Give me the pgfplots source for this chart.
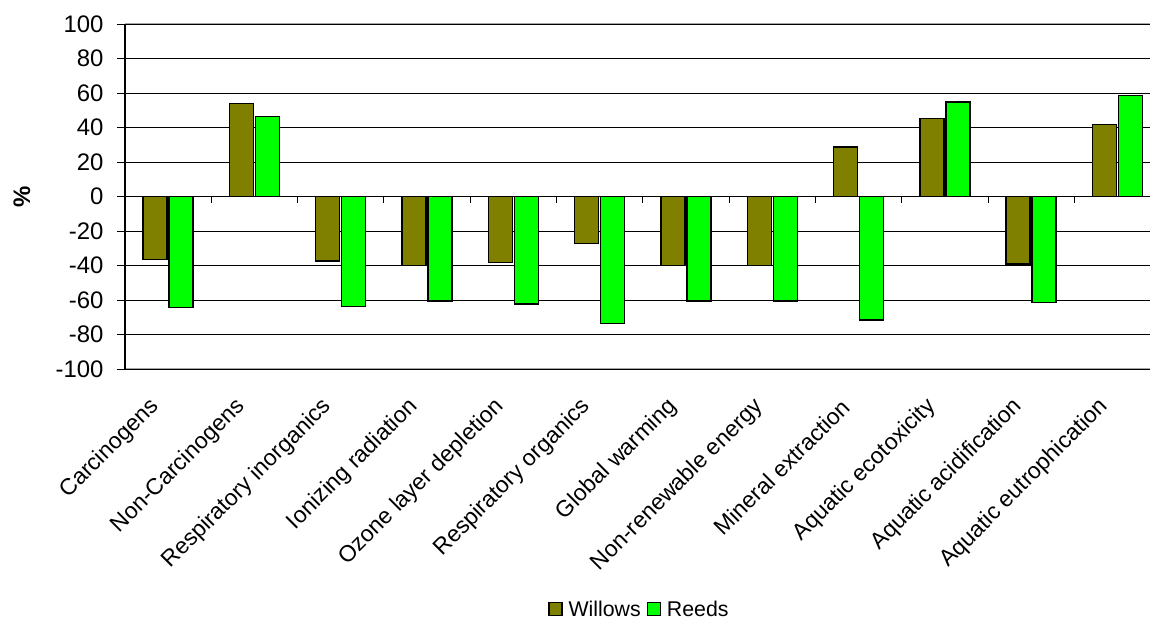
\documentclass[border=0pt]{standalone}
\usepackage{pgfplots}
\pgfplotsset{compat=1.18}
\usepackage{fontspec}
\setmainfont{Liberation Sans}
\definecolor{willow}{HTML}{808000}
\definecolor{reed}{HTML}{00FF00}
\begin{document}
\begin{tikzpicture}
\begin{axis}[
  at={(0,0)}, anchor=south west,
  scale only axis, width=1025bp, height=345bp,
  xmin=-0.5, xmax=11.377, ymin=-100, ymax=100,
  axis y line*=left, axis x line*=box,
  x axis line style={draw=gray!70, line width=1.2bp},
  y axis line style={draw=black, line width=1.2bp},
  ytick={-100,-80,...,100},
  xtick={0,...,11},
  xticklabels={Carcinogens,Non-Carcinogens,Respiratory inorganics,Ionizing radiation,Ozone layer depletion,Respiratory organics,Global warming,Non-renewable energy,Mineral extraction,Aquatic ecotoxicity,Aquatic acidification,Aquatic eutrophication},
  xtick style={draw=none},
  ytick style={draw=black, line width=1bp},
  tick align=outside, major tick length=8bp,
  ymajorgrids, major grid style={draw=black, line width=0.9bp},
  extra y ticks={-100,100}, extra y tick labels={},
  extra y tick style={grid style={draw=gray!70, line width=1.2bp}},
  /pgf/number format/assume math mode=true,
  yticklabel style={font=\fontsize{24}{24}\selectfont, xshift=-10bp},
  xticklabel style={font=\fontsize{23}{23}\selectfont, rotate=45, anchor=east, inner sep=0pt, xshift=-27.5bp, yshift=-9.5bp},
  ylabel={\textbf{\%}}, ylabel style={font=\fontsize{24}{24}\selectfont, at={(axis description cs:-0.1005,0.5)}, anchor=center},
  ybar, bar width=24bp,
  legend columns=2,
  legend style={draw=none, at={(0.5024,-0.696)}, anchor=center, font=\fontsize{21.4}{21.4}\selectfont, column sep=3bp, nodes={inner sep=3bp}},
  legend image code/.code={\draw[#1, draw=black, line width=1.2bp] (0bp,-6.5bp) rectangle (13bp,6.5bp);},
]
\addplot[fill=willow, draw=black, line width=1.4bp] coordinates {
(0,-36.4) (1,53.9) (2,-37.4) (3,-39.9) (4,-38.4) (5,-27.1) (6,-39.9) (7,-39.9) (8,28.7) (9,45.3) (10,-39.1) (11,41.9)};
\addplot[fill=reed, draw=black, line width=1.4bp] coordinates {
(0,-64.3) (1,46.5) (2,-63.6) (3,-60.6) (4,-62.4) (5,-73.7) (6,-60.6) (7,-60.6) (8,-71.7) (9,54.7) (10,-61.4) (11,58.5)};
\legend{Willows,Reeds}
\draw[black, line width=1.2bp] (axis cs:-0.5,0) -- (axis cs:11.377,0);
\pgfplotsinvokeforeach{0.5,1.5,2.5,3.5,4.5,5.5,6.5,7.5,8.5,9.5,10.5}{
  \draw[black, line width=1bp] (axis cs:#1,0) -- ([yshift=-6bp]axis cs:#1,0);
}
\end{axis}
\pgfresetboundingbox
\path[use as bounding box] (-125bp,-250bp) rectangle (1025bp,369bp);
\end{tikzpicture}
\end{document}
